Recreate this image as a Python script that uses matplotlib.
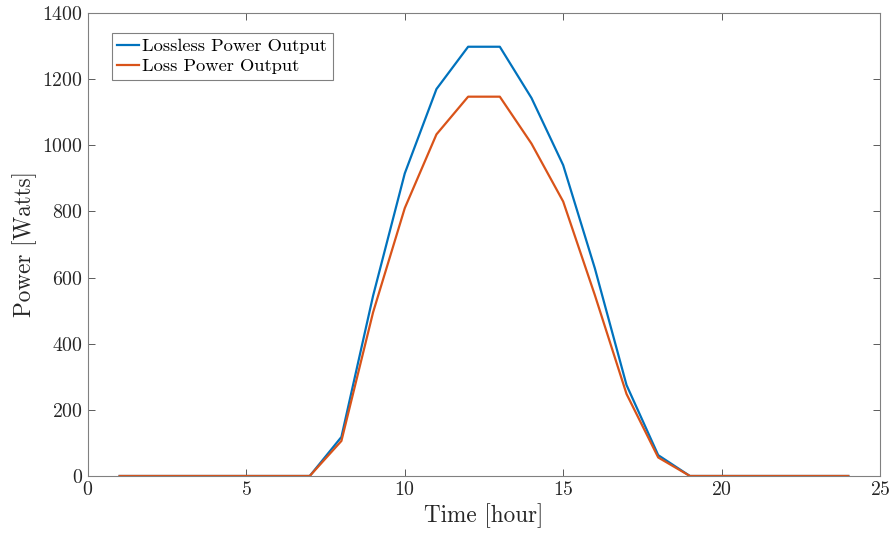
import matplotlib as mpl
mpl.rcParams['font.family'] = 'serif'
mpl.rcParams['font.serif'] = ['cmr10']
mpl.rcParams['mathtext.fontset'] = 'cm'
mpl.rcParams['axes.formatter.use_mathtext'] = True
import matplotlib.pyplot as plt

# Data
hours = list(range(1, 25))
lossless = [0, 0, 0, 0, 0, 0, 0, 118, 545, 915, 1170, 1298, 1298, 1143, 940, 628,
            275, 63, 0, 0, 0, 0, 0, 0]
loss = [0, 0, 0, 0, 0, 0, 0, 106, 495, 810, 1033, 1147, 1147, 1005, 830, 547,
        248, 56, 0, 0, 0, 0, 0, 0]

# Plot
fig = plt.figure(figsize=(8.95, 5.42), dpi=100)
ax = fig.add_axes([0.0983, 0.1218, 0.8849, 0.8542])
ax.plot(hours, lossless, color='#0072BD', linewidth=1.6, label='Lossless Power Output')
ax.plot(hours, loss, color='#D95319', linewidth=1.6, label='Loss Power Output')
ax.set_xlim(0, 25)
ax.set_ylim(0, 1400)
ax.set_xticks([0, 5, 10, 15, 20, 25])
ax.set_yticks(range(0, 1401, 200))
ax.tick_params(axis='both', direction='in', top=True, right=True, labelsize=14.3,
               color='#404040', labelcolor='#262626', length=5, width=0.6)
for s in ax.spines.values():
    s.set_color('#808080')
    s.set_linewidth(0.8)
ax.set_xlabel('Time [hour]', fontsize=16.7, color='#262626', labelpad=3)
ax.set_ylabel('Power [Watts]', fontsize=16.7, color='#262626')
leg = ax.legend(loc='upper left', bbox_to_anchor=(0.03, 0.957), fontsize=13.3,
                fancybox=False, framealpha=1, edgecolor='#808080',
                handlelength=1.2, handletextpad=0.15, borderpad=0.3, labelspacing=0.2,
                borderaxespad=0)
leg.get_frame().set_linewidth(0.8)

plt.savefig('out.png', dpi=100)
